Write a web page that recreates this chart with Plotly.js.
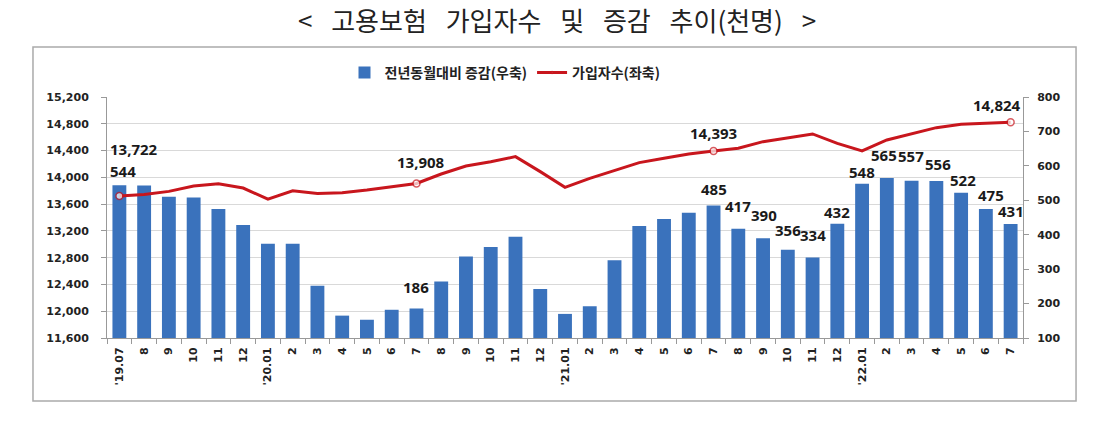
<!DOCTYPE html>
<html>
<head>
<meta charset="utf-8">
<script src="https://cdn.plot.ly/plotly-3.0.1.min.js"></script>
<style>
  html, body { margin: 0; padding: 0; background: #fff; }
  #chart { width: 1114px; height: 438px; }
</style>
</head>
<body>
<div id="chart"></div>
<script>
// ---- data ----
const months = [
  "2019-07","2019-08","2019-09","2019-10","2019-11","2019-12",
  "2020-01","2020-02","2020-03","2020-04","2020-05","2020-06","2020-07","2020-08","2020-09","2020-10","2020-11","2020-12",
  "2021-01","2021-02","2021-03","2021-04","2021-05","2021-06","2021-07","2021-08","2021-09","2021-10","2021-11","2021-12",
  "2022-01","2022-02","2022-03","2022-04","2022-05","2022-06","2022-07"
];
const tickLabels = [
  "'19.07","8","9","10","11","12",
  "'20.01","2","3","4","5","6","7","8","9","10","11","12",
  "'21.01","2","3","4","5","6","7","8","9","10","11","12",
  "'22.01","2","3","4","5","6","7"
];
// 전년동월대비 증감 (우축, 천명)
const yoyChange = [
  544, 543, 510, 508, 475, 428,
  374, 374, 252, 165, 153, 182, 186, 264, 337, 364, 394, 242,
  170, 192, 326, 425, 446, 464, 485, 417, 390, 356, 334, 432,
  548, 565, 557, 556, 522, 475, 431
];
// 가입자수 (좌축, 천명)
const subscribers = [
  13722, 13745, 13790, 13870, 13905, 13840,
  13675, 13800, 13760, 13770, 13810, 13855, 13908, 14050, 14170, 14234, 14309, 14085,
  13850, 13985, 14100, 14220, 14285, 14350, 14393, 14434, 14533, 14588, 14648, 14508,
  14394, 14558, 14648, 14742, 14792, 14807, 14824
];
// indices of labelled points
const barLabelIdx = [0, 12, 24, 25, 26, 27, 28, 29, 30, 31, 32, 33, 34, 35, 36];
const lineLabelIdx = [0, 12, 24, 36];

// ---- label styling offsets (pixels) ----
const barLabelShift = {
  0:[4,2], 12:[0,9], 24:[0,4], 25:[0,11], 26:[1,11], 27:[0,8], 28:[0,10], 29:[0,0],
  30:[0,0], 31:[-3,11], 32:[-1,13], 33:[2,5], 34:[2,1], 35:[5,2], 36:[0,1]
};
const lineLabelShift = { 0:[15,47], 12:[5,21], 24:[0,18], 36:[-14,17] };

const lineMarkerSize = subscribers.map((v, i) => lineLabelIdx.includes(i) ? 7 : 0);

const fmt = v => v.toLocaleString('en-US');

const labelFont = { family: "Noto Sans, Liberation Sans, sans-serif", size: 15, color: "#1a1a1a", weight: "bold" };
const tickFont = { family: "DejaVu Sans, sans-serif", size: 11, color: "#222", weight: "bold" };

const annotations = [];
barLabelIdx.forEach(i => {
  const s = barLabelShift[i] || [0, 0];
  annotations.push({
    x: months[i], y: yoyChange[i], xref: 'x', yref: 'y',
    text: String(yoyChange[i]), showarrow: false,
    xanchor: 'center', yanchor: 'bottom', xshift: s[0], yshift: s[1],
    font: labelFont
  });
});
lineLabelIdx.forEach(i => {
  const s = lineLabelShift[i] || [0, 0];
  annotations.push({
    x: months[i], y: subscribers[i], xref: 'x', yref: 'y2',
    text: fmt(subscribers[i]), showarrow: false,
    xanchor: 'center', yanchor: 'middle', xshift: s[0], yshift: s[1],
    font: labelFont
  });
});

const traces = [
  {
    type: 'bar',
    name: '전년동월대비 증감(우축)',
    x: months, y: yoyChange,
    yaxis: 'y',
    width: 0.56,
    marker: { color: '#3A72BC' },
    hoverinfo: 'skip'
  },
  {
    type: 'scatter',
    mode: 'lines+markers',
    name: '가입자수(좌축)',
    x: months, y: subscribers,
    yaxis: 'y2',
    line: { color: '#C8161D', width: 3 },
    marker: { size: lineMarkerSize, color: '#ffffff', line: { color: '#C8161D', width: 1.5 } },
    hoverinfo: 'skip'
  }
];

const sp = '\u2002 ';
const layout = {
  width: 1114, height: 438,
  margin: { l: 107, r: 91, t: 97, b: 100, pad: 0, autoexpand: false },
  paper_bgcolor: '#ffffff', plot_bgcolor: '#ffffff',
  showlegend: true,
  title: {
    text: '<' + sp + '고용보험' + sp + '가입자수' + sp + '및' + sp + '증감' + sp + '추이(천명)' + sp + '>',
    font: { family: 'Noto Sans CJK KR, sans-serif', size: 26, color: '#222' },
    x: 0.5, xref: 'container', xanchor: 'center',
    y: 0.95, yref: 'container', yanchor: 'middle'
  },
  legend: {
    orientation: 'h', x: 0.4345, xanchor: 'center', y: 1.10, yanchor: 'middle',
    font: { family: 'Noto Sans CJK KR, sans-serif', size: 14, color: '#222', weight: 'bold' },
    bgcolor: 'rgba(0,0,0,0)'
  },
  xaxis: {
    type: 'category', range: [-0.5, 36.5], autorange: false, automargin: false,
    tickmode: 'array', tickvals: months, ticktext: tickLabels,
    tickangle: -90, tickson: 'boundaries',
    ticks: 'outside', ticklen: 5, tickcolor: '#999',
    showline: true, linecolor: '#999', linewidth: 1,
    showgrid: false, tickfont: tickFont, ticklabelstandoff: 4,
    fixedrange: true
  },
  yaxis: {
    side: 'right', automargin: false,
    range: [100, 800], autorange: false, dtick: 100, tick0: 100,
    showgrid: false, zeroline: false,
    showline: true, linecolor: '#999', linewidth: 1,
    ticks: 'outside', ticklen: 5, tickcolor: '#999',
    tickfont: tickFont, ticklabelstandoff: 6,
    fixedrange: true
  },
  yaxis2: {
    overlaying: 'y', side: 'left', automargin: false,
    range: [11600, 15200], autorange: false, dtick: 400, tick0: 11600, tickformat: ',d',
    showgrid: true, gridcolor: '#d9d9d9', gridwidth: 1, zeroline: false,
    showline: true, linecolor: '#999', linewidth: 1,
    ticks: 'outside', ticklen: 5, tickcolor: '#999',
    tickfont: tickFont, ticklabelstandoff: 10,
    fixedrange: true
  },
  annotations: annotations,
  shapes: [{
    type: 'rect', xref: 'paper', yref: 'paper',
    x0: -0.0808, x1: 1.0579, y0: -0.2614, y1: 1.2075,
    line: { color: '#aaaaaa', width: 1.5 }, fillcolor: 'rgba(0,0,0,0)', layer: 'below'
  }]
};

Plotly.newPlot('chart', traces, layout, { displayModeBar: false, staticPlot: true });
</script>
</body>
</html>
